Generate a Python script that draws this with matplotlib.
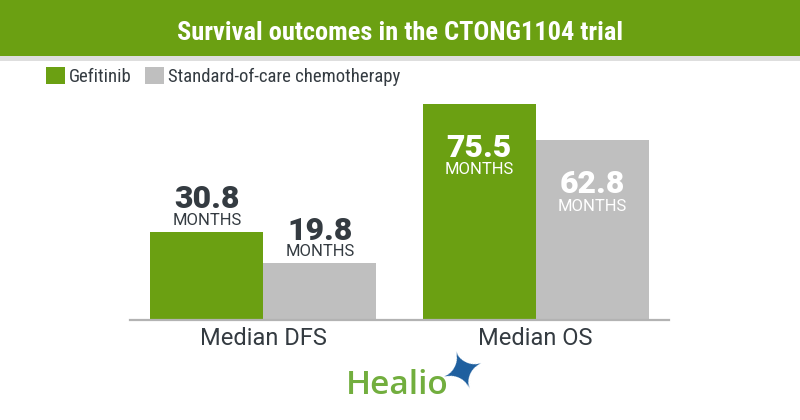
import matplotlib
matplotlib.use("Agg")
import matplotlib.pyplot as plt
from matplotlib.patches import Rectangle, Patch
import numpy as np
import logging
logging.getLogger("matplotlib.font_manager").setLevel(logging.ERROR)

# ---- data ----
title = "Survival outcomes in the CTONG1104 trial"
categories = ["Median DFS", "Median OS"]
series_names = ["Gefitinib", "Standard-of-care chemotherapy"]
gefitinib = [30.8, 75.5]
chemo = [19.8, 62.8]
unit_label = "MONTHS"

# ---- styles ----
GREEN = "#6ba012"
GREY = "#bfbfbf"
DARK = "#343b41"
HEALIO_GREEN = "#72ae3e"
HEALIO_BLUE = "#1d5e9e"
COND = ["Roboto Condensed", "Liberation Sans Narrow", "Roboto"]
REG = ["Roboto", "DejaVu Sans"]

W, H = 800, 420
fig = plt.figure(figsize=(W / 100, H / 100), dpi=100)

def fx(px):
    return px / W

def fy(py):
    return 1 - py / H

# banner
fig.patches.append(Rectangle((0, fy(55.5)), 1, 55.5 / H, transform=fig.transFigure,
                             facecolor=GREEN, edgecolor="none", zorder=0))
fig.patches.append(Rectangle((0, fy(61)), 1, 5.5 / H, transform=fig.transFigure,
                             facecolor="#dedede", edgecolor="none", zorder=0))
fig.text(0.5, fy(39.5), title, ha="center", va="baseline", color="white",
         fontsize=19, fontweight="bold", family=COND)

# axes
ax = fig.add_axes([fx(130), fy(320), fx(669) - fx(130), (320 - 62) / H])
x = np.arange(len(categories))
w = 0.415
b1 = ax.bar(x - w / 2, gefitinib, w, color=GREEN, label=series_names[0], zorder=2)
b2 = ax.bar(x + w / 2, chemo, w, color=GREY, label=series_names[1], zorder=2)
ax.set_xlim(-0.49, 1.49)
ax.set_ylim(0, 258 / 2.86)
for s in ["top", "right", "left"]:
    ax.spines[s].set_visible(False)
ax.spines["bottom"].set_color("#b3b3b3")
ax.spines["bottom"].set_linewidth(1.6)
ax.set_yticks([])
ax.set_xticks(x)
ax.set_xticklabels(categories, fontsize=17, color=DARK, family=REG)
ax.tick_params(axis="x", length=0, pad=5)

def label(bars, vals):
    for rect, v in zip(bars, vals):
        cx = rect.get_x() + rect.get_width() / 2
        top = rect.get_height()
        if v > 50:
            col = "white"
            o_num, o_unit = -38, -50.5
        else:
            col = DARK
            o_num, o_unit = 17, 5
        ax.annotate(f"{v:.1f}", (cx, top), xytext=(0, o_num), textcoords="offset points",
                    ha="center", va="baseline", fontsize=23, fontweight="heavy",
                    color=col, family=REG)
        ax.annotate(unit_label, (cx, top), xytext=(0, o_unit), textcoords="offset points",
                    ha="center", va="baseline", fontsize=12, color=col, family=REG)

label(b1, gefitinib)
label(b2, chemo)

# legend
handles = [Patch(facecolor=GREEN), Patch(facecolor=GREY)]
leg = fig.legend(handles, series_names, loc="upper left", bbox_to_anchor=(fx(46), fy(67)),
                 ncol=2, frameon=False, borderpad=0, borderaxespad=0,
                 handlelength=1.0, handleheight=1.0, handletextpad=0.22,
                 columnspacing=0.7, prop={"family": COND, "size": 13.5})
for t in leg.get_texts():
    t.set_color(DARK)

# logo
fig.text(fx(346), fy(394), "Healio", ha="left", va="baseline", fontsize=24,
         color=HEALIO_GREEN, fontweight="semibold", family=["Open Sans", "DejaVu Sans"])
fig.text(fx(464), fy(373), "\u2726", ha="center", va="center", fontsize=38,
         color=HEALIO_BLUE, family="DejaVu Sans", rotation=20)

fig.savefig("out.png", dpi=100)
